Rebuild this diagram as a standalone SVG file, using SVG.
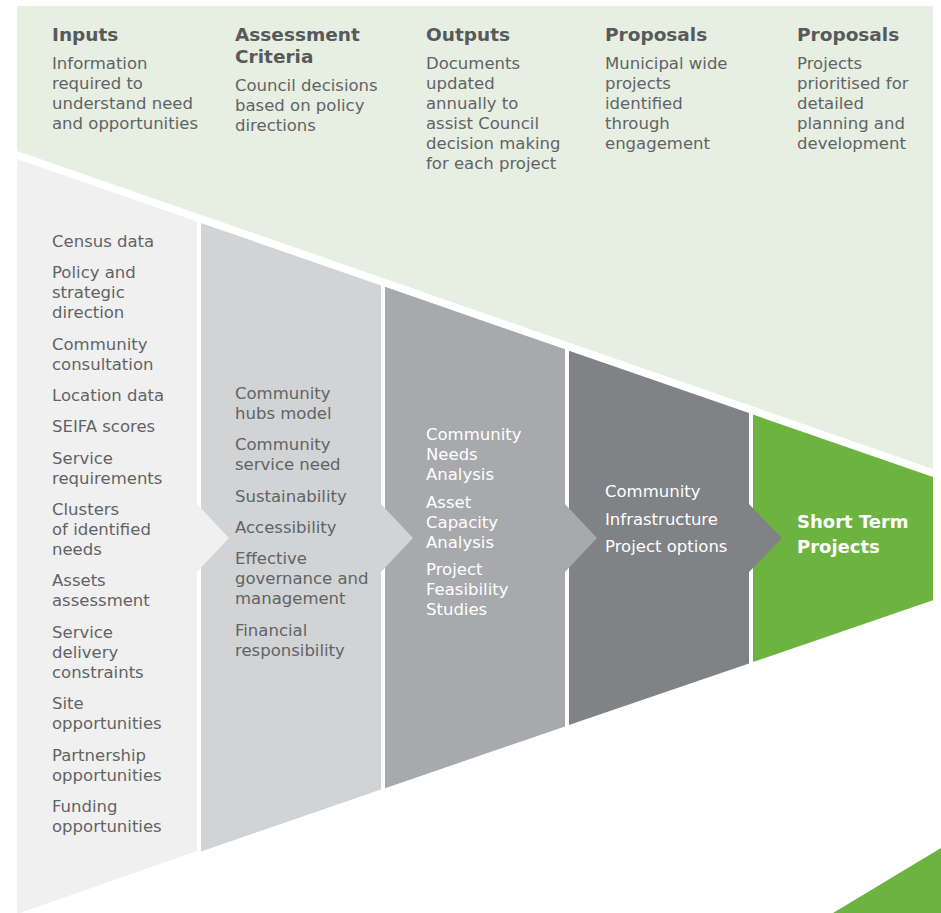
<svg xmlns="http://www.w3.org/2000/svg" width="941" height="913" viewBox="0 0 941 913">
<style>
text{font-family:"DejaVu Sans","Open Sans",sans-serif;}
.h{font-size:18.5px;font-weight:bold;fill:#58595b;}
.b{font-size:16.5px;fill:#626366;}
.w{font-size:16.5px;fill:#ffffff;}
.g{font-size:18px;font-weight:bold;fill:#ffffff;}
</style>
<rect x="0" y="0" width="941" height="913" fill="#ffffff"/>
<g id="header">
<polygon points="17,6 933,6 933,469 17,151" fill="#e6efe1"/>
<text class="h" x="52" y="41">Inputs</text>
<text class="b" x="52" y="69">Information</text>
<text class="b" x="52" y="89">required to</text>
<text class="b" x="52" y="109">understand need</text>
<text class="b" x="52" y="129">and opportunities</text>
<text class="h" x="235" y="41">Assessment</text>
<text class="h" x="235" y="63">Criteria</text>
<text class="b" x="235" y="91">Council decisions</text>
<text class="b" x="235" y="111">based on policy</text>
<text class="b" x="235" y="131">directions</text>
<text class="h" x="426" y="41">Outputs</text>
<text class="b" x="426" y="69">Documents</text>
<text class="b" x="426" y="89">updated</text>
<text class="b" x="426" y="109">annually to</text>
<text class="b" x="426" y="129">assist Council</text>
<text class="b" x="426" y="149">decision making</text>
<text class="b" x="426" y="169">for each project</text>
<text class="h" x="605" y="41">Proposals</text>
<text class="b" x="605" y="69">Municipal wide</text>
<text class="b" x="605" y="89">projects</text>
<text class="b" x="605" y="109">identified</text>
<text class="b" x="605" y="129">through</text>
<text class="b" x="605" y="149">engagement</text>
<text class="h" x="797" y="41">Proposals</text>
<text class="b" x="797" y="69">Projects</text>
<text class="b" x="797" y="89">prioritised for</text>
<text class="b" x="797" y="109">detailed</text>
<text class="b" x="797" y="129">planning and</text>
<text class="b" x="797" y="149">development</text>
</g>
<g id="inputs">
<polygon points="17,159 197,221.6 197,851 17,914" fill="#f0f0f0"/>
<text class="b" x="52" y="247">Census data</text>
<text class="b" x="52" y="278">Policy and</text>
<text class="b" x="52" y="298">strategic</text>
<text class="b" x="52" y="318">direction</text>
<text class="b" x="52" y="350">Community</text>
<text class="b" x="52" y="370">consultation</text>
<text class="b" x="52" y="401">Location data</text>
<text class="b" x="52" y="432">SEIFA scores</text>
<text class="b" x="52" y="464">Service</text>
<text class="b" x="52" y="484">requirements</text>
<text class="b" x="52" y="515">Clusters</text>
<text class="b" x="52" y="535">of identified</text>
<text class="b" x="52" y="555">needs</text>
<text class="b" x="52" y="586">Assets</text>
<text class="b" x="52" y="606">assessment</text>
<text class="b" x="52" y="638">Service</text>
<text class="b" x="52" y="658">delivery</text>
<text class="b" x="52" y="678">constraints</text>
<text class="b" x="52" y="709">Site</text>
<text class="b" x="52" y="729">opportunities</text>
<text class="b" x="52" y="761">Partnership</text>
<text class="b" x="52" y="781">opportunities</text>
<text class="b" x="52" y="812">Funding</text>
<text class="b" x="52" y="832">opportunities</text>
</g>
<g id="assessment">
<polygon points="201,223 381,285.5 381,789.6 201,851.4" fill="#d1d3d4"/>
<text class="b" x="235" y="399">Community</text>
<text class="b" x="235" y="419">hubs model</text>
<text class="b" x="235" y="450">Community</text>
<text class="b" x="235" y="470">service need</text>
<text class="b" x="235" y="502">Sustainability</text>
<text class="b" x="235" y="533">Accessibility</text>
<text class="b" x="235" y="564">Effective</text>
<text class="b" x="235" y="584">governance and</text>
<text class="b" x="235" y="604">management</text>
<text class="b" x="235" y="636">Financial</text>
<text class="b" x="235" y="656">responsibility</text>
</g>
<g id="outputs">
<polygon points="385,286.8 565,349.3 565,726.5 385,788.2" fill="#a7a9ac"/>
<text class="w" x="426" y="440">Community</text>
<text class="w" x="426" y="460">Needs</text>
<text class="w" x="426" y="480">Analysis</text>
<text class="w" x="426" y="508">Asset</text>
<text class="w" x="426" y="528">Capacity</text>
<text class="w" x="426" y="548">Analysis</text>
<text class="w" x="426" y="575">Project</text>
<text class="w" x="426" y="595">Feasibility</text>
<text class="w" x="426" y="615">Studies</text>
</g>
<g id="proposals">
<polygon points="569,350.7 749,413.1 749,663.4 569,725.1" fill="#808285"/>
<text class="w" x="605" y="497">Community</text>
<text class="w" x="605" y="525">Infrastructure</text>
<text class="w" x="605" y="552">Project options</text>
</g>
<g id="short-term">
<polygon points="753,414.5 933,477 933,600.3 753,662" fill="#6db33f"/>
<text class="g" x="797" y="528">Short Term</text>
<text class="g" x="797" y="553">Projects</text>
</g>
<g id="connectors">
<polygon points="196,503 229,538 196,573" fill="#f0f0f0"/>
<polygon points="380,503 413,538 380,573" fill="#d1d3d4"/>
<polygon points="564,503 597,538 564,573" fill="#a7a9ac"/>
<polygon points="748,503 782,538 748,573" fill="#808285"/>
</g>
<g id="corner">
<polygon points="833,913 941,848 941,913" fill="#6db33f"/>
</g>
</svg>
